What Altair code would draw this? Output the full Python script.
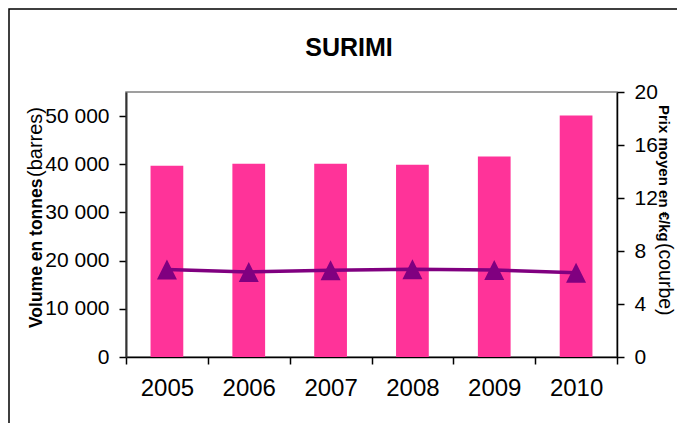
import altair as alt
import pandas as pd

# ---- data ----
years = ["2005", "2006", "2007", "2008", "2009", "2010"]
volume_tonnes = [39700, 40100, 40100, 39900, 41600, 50100]
prix_eur_kg = [6.60, 6.42, 6.54, 6.63, 6.57, 6.35]
y_left_ticks = [0, 10000, 20000, 30000, 40000, 50000]
y_right_ticks = [0, 4, 8, 12, 16, 20]

df = pd.DataFrame({"annee": years, "volume": volume_tonnes, "prix": prix_eur_kg})
one = alt.InlineData(values=[{"k": 1}])

FONT = "Liberation Sans"
W, H = 491, 265
PINK = "#FF3399"
PURPLE = "#800080"

x_enc = alt.X(
    "annee:O", sort=None, title=None,
    scale=alt.Scale(paddingInner=0, paddingOuter=0),
    axis=alt.Axis(labelAngle=0, labelFontSize=24, labelFont=FONT, labelColor="black",
                  tickBand="extent", tickSize=7, tickColor="black", tickWidth=1.5,
                  domainColor="black", domainWidth=1.5, labelPadding=12,
                  labelBaseline="top", grid=False),
)

bars = alt.Chart(df).mark_bar(color=PINK, width=alt.RelativeBandSize(0.4)).encode(
    x=x_enc,
    y=alt.Y("volume:Q", title=None,
            scale=alt.Scale(domain=[0, 55000], nice=False, zero=True),
            axis=alt.Axis(orient="left", values=y_left_ticks, grid=False,
                          labelExpr="replace(format(datum.value, ','), ',', ' ')",
                          labelFontSize=21, labelFont=FONT, labelColor="black",
                          tickSize=7, tickColor="black", tickWidth=1.5,
                          domainColor="#333333", domainWidth=2, labelPadding=10)),
)

line = alt.Chart(df).mark_line(
    color=PURPLE, strokeWidth=3.5,
    point=alt.OverlayMarkDef(shape="M0,-1L-1,1L1,1Z", size=400, filled=True,
                             color=PURPLE, opacity=1),
).encode(
    x=x_enc,
    y=alt.Y("prix:Q", title=None,
            scale=alt.Scale(domain=[0, 20], nice=False, zero=True),
            axis=alt.Axis(orient="right", values=y_right_ticks, grid=False,
                          labelFontSize=21, labelFont=FONT, labelColor="black",
                          tickSize=7, tickColor="black", tickWidth=1.5,
                          domainColor="black", domainWidth=1.5, labelPadding=10)),
)

frame = alt.Chart(one).mark_rect(filled=False, stroke="black", strokeWidth=1.5).encode(
    x=alt.value(-117), x2=alt.value(700), y=alt.value(-83), y2=alt.value(600)
)

title = alt.Chart(one).mark_text(
    text="SURIMI", font=FONT, fontSize=25, fontWeight="bold", color="black",
    align="center", baseline="alphabetic"
).encode(x=alt.value(223), y=alt.value(-36))

lt_bold = alt.Chart(one).mark_text(
    text="Volume en tonnes", font=FONT, fontSize=17.5, fontWeight="bold", color="black",
    angle=270, align="left", baseline="alphabetic"
).encode(x=alt.value(-84), y=alt.value(236))

lt_norm = alt.Chart(one).mark_text(
    text="(barres)", font=FONT, fontSize=20, color="black",
    angle=270, align="left", baseline="alphabetic"
).encode(x=alt.value(-84), y=alt.value(85))

rt_bold = alt.Chart(one).mark_text(
    text="Prix moyen en €/kg", font=FONT, fontSize=15, fontWeight="bold", color="black",
    angle=90, align="left", baseline="alphabetic"
).encode(x=alt.value(533), y=alt.value(13))

rt_norm = alt.Chart(one).mark_text(
    text="(courbe)", font=FONT, fontSize=19.5, color="black",
    angle=90, align="left", baseline="alphabetic"
).encode(x=alt.value(533), y=alt.value(151))

main = alt.layer(bars, line).resolve_scale(y="independent")

chart = alt.layer(frame, main, title, lt_bold, lt_norm, rt_bold, rt_norm).properties(
    width=W, height=H,
    padding={"left": 118, "top": 84, "right": 60, "bottom": 66},
    autosize=alt.AutoSizeParams(type="none"),
    background="white",
).configure_view(stroke="#808080", strokeWidth=1.5)

chart.save("out.html", embed_options={"renderer": "svg", "actions": False})
